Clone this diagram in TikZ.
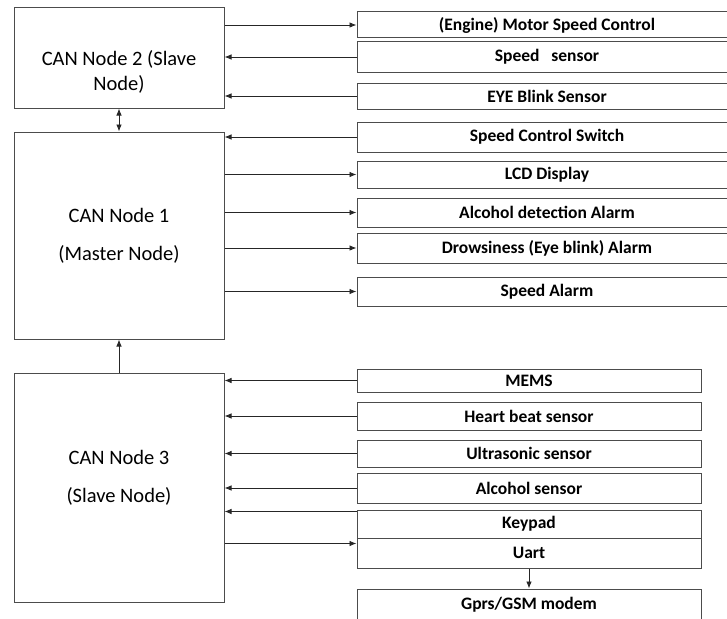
\documentclass[tikz,border=0pt]{standalone}
\usepackage{fontspec}
\setmainfont{Carlito}
\usetikzlibrary{positioning,arrows.meta}

\tikzset{
  canbox/.style={draw=black!70, line width=1pt, minimum width=210pt},
  cantext/.style={align=center, font=\fontsize{20.5}{25}\selectfont},
  partbox/.style={draw=black!70, line width=1pt, inner sep=0pt,
    font=\fontsize{17.5}{20}\selectfont\bfseries},
  link/.style={->, >={Latex[length=7pt,width=5.5pt]}, line width=0.8pt, black!85}
}

\begin{document}
\begin{tikzpicture}[x=1pt,y=-1pt]
    \useasboundingbox (0,0) rectangle (727,618);

    % Nodos CAN
    \node[canbox, minimum height=100pt] (n2) at (119,58) {};
    \node[canbox, minimum height=207pt] (n1) at (119,235.5) {};
    \node[canbox, minimum height=229pt] (n3) at (119,487.5) {};
    \node[cantext] (t2) at (119,71.5) {CAN Node 2 (Slave\\Node)};
    \node[cantext] (t1) at (119,236) {CAN Node 1\\[13pt](Master Node)};
    \node[cantext] (t3) at (119,477.5) {CAN Node 3\\[13pt](Slave Node)};

    % Bloques de los nodos 2 y 1
    \foreach \n/\y/\h/\t in {1/25/26/{(Engine) Motor Speed Control},
        2/57/30/{Speed~~~sensor}, 3/96/26/{EYE Blink Sensor},
        4/137/30/{Speed Control Switch}, 5/174.5/27/{LCD Display},
        6/212.5/29/{Alcohol detection Alarm},
        7/248/30/{Drowsiness (Eye blink) Alarm}, 8/291.5/29/{Speed Alarm}} {
        \node[partbox, minimum width=380pt, minimum height=\h pt] (m\n) at (547,\y) {\t};
    }

    % Bloques del nodo 3
    \foreach \nm/\y/\h/\t in {mems/380.5/23/{MEMS}, heart/416/28/{Heart beat sensor},
        ultra/453.5/27/{Ultrasonic sensor}, alco/488/30/{Alcohol sensor},
        keypad/524/28/{Keypad}, uart/553/30/{Uart}, gprs/604.5/31/{Gprs/GSM modem}} {
        \node[partbox, minimum width=344pt, minimum height=\h pt] (\nm) at (529,\y) {\t};
    }

    % Conexiones
    \draw[link,<->] (n2) -- (n1);
    \draw[link] (n3) -- (n1);
    \draw[link] (n2.east |- m1) -- (m1);
    \foreach \i in {2,3} {
        \draw[link] (m\i) -- (n2.east |- m\i);
    }
    \draw[link] (m4) -- (n1.east |- m4);
    \foreach \i in {5,...,8} {
        \draw[link] (n1.east |- m\i) -- (m\i);
    }
    \foreach \s in {mems,heart,ultra,alco} {
        \draw[link] (\s) -- (n3.east |- \s);
    }
    \coordinate (kin) at ([yshift=-2pt]keypad.north west);
    \draw[link] (kin) -- (kin -| n3.east);
    \coordinate (uin) at ([yshift=-6pt]uart.north west);
    \draw[link] (uin -| n3.east) -- (uin);
    \draw[link] (uart) -- (gprs);

\end{tikzpicture}
\end{document}
